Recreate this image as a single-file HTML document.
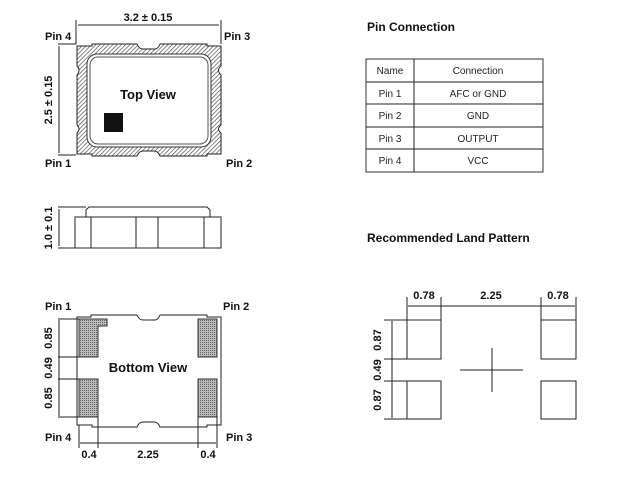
<!DOCTYPE html>
<html><head><meta charset="utf-8"><style>
html,body{margin:0;padding:0;background:#fff;}
svg{display:block;font-family:"Liberation Sans",Arial,sans-serif;}
</style></head><body>
<svg width="620" height="481" viewBox="0 0 620 481" xmlns="http://www.w3.org/2000/svg">
<defs>
<pattern id="hatch" width="3" height="3" patternUnits="userSpaceOnUse" patternTransform="rotate(45)">
<rect width="3" height="3" fill="#fff"/><line x1="0" y1="0" x2="0" y2="3" stroke="#555" stroke-width="1.4"/></pattern>
<pattern id="dots" width="2" height="2" patternUnits="userSpaceOnUse">
<rect width="2" height="2" fill="#bbb"/><rect width="1" height="1" fill="#666"/></pattern>
</defs>
<g fill="none" stroke="#222" stroke-width="1">
<!-- Top view -->
<path d="M77,46 L92,46 L92,44 L137,44 Q139,49 143,49 L155,49 Q158,49 160,44 L207,44 L207,46 L221,46 L221,66 Q216,70 221,75 L221,125 Q216,129 221,133 L221,154 L207,154 L207,156 L160,156 Q158,151 154,151 L143,151 Q139,151 137,156 L92,156 L92,154 L77,154 L77,133 Q81,129 77,125 L77,75 Q81,70 77,66 Z" fill="url(#hatch)"/>
<rect x="87" y="54" width="124" height="93" rx="10" fill="#fff" stroke="#333"/>
<rect x="90" y="57" width="118" height="87" rx="8" fill="#fff" stroke="#555"/>
<!-- dims top -->
<line x1="76" y1="20" x2="76" y2="44"/><line x1="221" y1="20" x2="221" y2="44"/>
<line x1="78" y1="25" x2="219" y2="25"/>
<line x1="58" y1="44" x2="76" y2="44"/><line x1="58" y1="155" x2="76" y2="155"/>
<line x1="59" y1="46" x2="59" y2="153"/>
<!-- Side view -->
<path d="M86,217 L86,210 L89,207 L207,207 L210,210 L210,217"/>
<rect x="75" y="217" width="146" height="31"/>
<line x1="91" y1="217" x2="91" y2="248"/><line x1="136" y1="217" x2="136" y2="248"/>
<line x1="158" y1="217" x2="158" y2="248"/><line x1="204" y1="217" x2="204" y2="248"/>
<line x1="58" y1="207" x2="86" y2="207"/><line x1="58" y1="248" x2="75" y2="248"/>
<line x1="59" y1="209" x2="59" y2="246"/>
<!-- Bottom view -->
<path d="M77,317 L91,317 L91,315 L137,315 Q139,320 143,320 L155,320 Q158,320 160,315 L207,315 L207,317 L221,317 L221,425 L207,425 L207,427 L160,427 Q158,422 154,422 L143,422 Q139,422 137,427 L92,427 L92,425 L77,425 Z" fill="#fff"/>
<path d="M79,319 L107,319 L107,326 L98,326 L98,357 L79,357 Z" fill="url(#dots)" stroke="#333"/>
<rect x="79" y="379" width="19" height="38" fill="url(#dots)" stroke="#333"/>
<rect x="198" y="319" width="19" height="38" fill="url(#dots)" stroke="#333"/>
<rect x="198" y="379" width="19" height="38" fill="url(#dots)" stroke="#333"/>
<line x1="58" y1="319" x2="79" y2="319"/><line x1="58" y1="357" x2="79" y2="357"/>
<line x1="58" y1="379" x2="79" y2="379"/><line x1="58" y1="417" x2="79" y2="417"/>
<line x1="59" y1="320" x2="59" y2="416"/>
<line x1="79" y1="425" x2="79" y2="448"/><line x1="98" y1="417" x2="98" y2="448"/>
<line x1="198" y1="417" x2="198" y2="448"/><line x1="217" y1="417" x2="217" y2="448"/>
<line x1="80" y1="443" x2="216" y2="443"/>
<!-- Table -->
<rect x="366" y="59" width="177" height="113" stroke="#333"/>
<line x1="414" y1="59" x2="414" y2="172"/>
<line x1="366" y1="82" x2="543" y2="82"/><line x1="366" y1="104" x2="543" y2="104"/>
<line x1="366" y1="127" x2="543" y2="127"/><line x1="366" y1="149" x2="543" y2="149"/>
<!-- Land pattern -->
<rect x="407" y="320" width="34" height="39"/><rect x="541" y="320" width="35" height="39"/>
<rect x="407" y="381" width="34" height="38"/><rect x="541" y="381" width="35" height="38"/>
<line x1="407" y1="297" x2="407" y2="320"/><line x1="441" y1="297" x2="441" y2="320"/>
<line x1="541" y1="297" x2="541" y2="320"/><line x1="576" y1="297" x2="576" y2="320"/>
<line x1="408" y1="306" x2="575" y2="306"/>
<line x1="384" y1="320" x2="407" y2="320"/><line x1="384" y1="359" x2="407" y2="359"/>
<line x1="384" y1="381" x2="407" y2="381"/><line x1="384" y1="419" x2="407" y2="419"/>
<line x1="392" y1="321" x2="392" y2="418"/>
<line x1="460" y1="370" x2="523" y2="370"/><line x1="492" y1="348" x2="492" y2="392"/>
</g>
<rect x="104" y="113" width="19" height="19" fill="#111"/>
<g font-size="11" font-weight="bold" fill="#111">
<text x="148" y="21" text-anchor="middle">3.2 ± 0.15</text>
<text x="45" y="40">Pin 4</text><text x="224" y="40">Pin 3</text>
<text x="45" y="167">Pin 1</text><text x="226" y="167">Pin 2</text>
<text x="148" y="99" text-anchor="middle" font-size="13">Top View</text>
<text transform="translate(52,100) rotate(-90)" text-anchor="middle">2.5 ± 0.15</text>
<text transform="translate(52,228) rotate(-90)" text-anchor="middle">1.0 ± 0.1</text>
<text x="45" y="310">Pin 1</text><text x="223" y="310">Pin 2</text>
<text x="148" y="372" text-anchor="middle" font-size="13">Bottom View</text>
<text transform="translate(52,338) rotate(-90)" text-anchor="middle">0.85</text>
<text transform="translate(52,368) rotate(-90)" text-anchor="middle">0.49</text>
<text transform="translate(52,398) rotate(-90)" text-anchor="middle">0.85</text>
<text x="45" y="441">Pin 4</text><text x="226" y="441">Pin 3</text>
<text x="89" y="458" text-anchor="middle">0.4</text>
<text x="148" y="458" text-anchor="middle">2.25</text>
<text x="208" y="458" text-anchor="middle">0.4</text>
<text x="367" y="31" font-size="12">Pin Connection</text>
<text x="367" y="242" font-size="12">Recommended Land Pattern</text>
<text x="424" y="299" text-anchor="middle">0.78</text>
<text x="491" y="299" text-anchor="middle">2.25</text>
<text x="558" y="299" text-anchor="middle">0.78</text>
<text transform="translate(381,340) rotate(-90)" text-anchor="middle">0.87</text>
<text transform="translate(381,370) rotate(-90)" text-anchor="middle">0.49</text>
<text transform="translate(381,400) rotate(-90)" text-anchor="middle">0.87</text>
</g>
<g font-size="10" fill="#222" text-anchor="middle">
<text x="390" y="74">Name</text><text x="478" y="74">Connection</text>
<text x="390" y="97">Pin 1</text><text x="478" y="97">AFC or GND</text>
<text x="390" y="119">Pin 2</text><text x="478" y="119">GND</text>
<text x="390" y="142">Pin 3</text><text x="478" y="142">OUTPUT</text>
<text x="390" y="164">Pin 4</text><text x="478" y="164">VCC</text>
</g>
</svg>
</body></html>
